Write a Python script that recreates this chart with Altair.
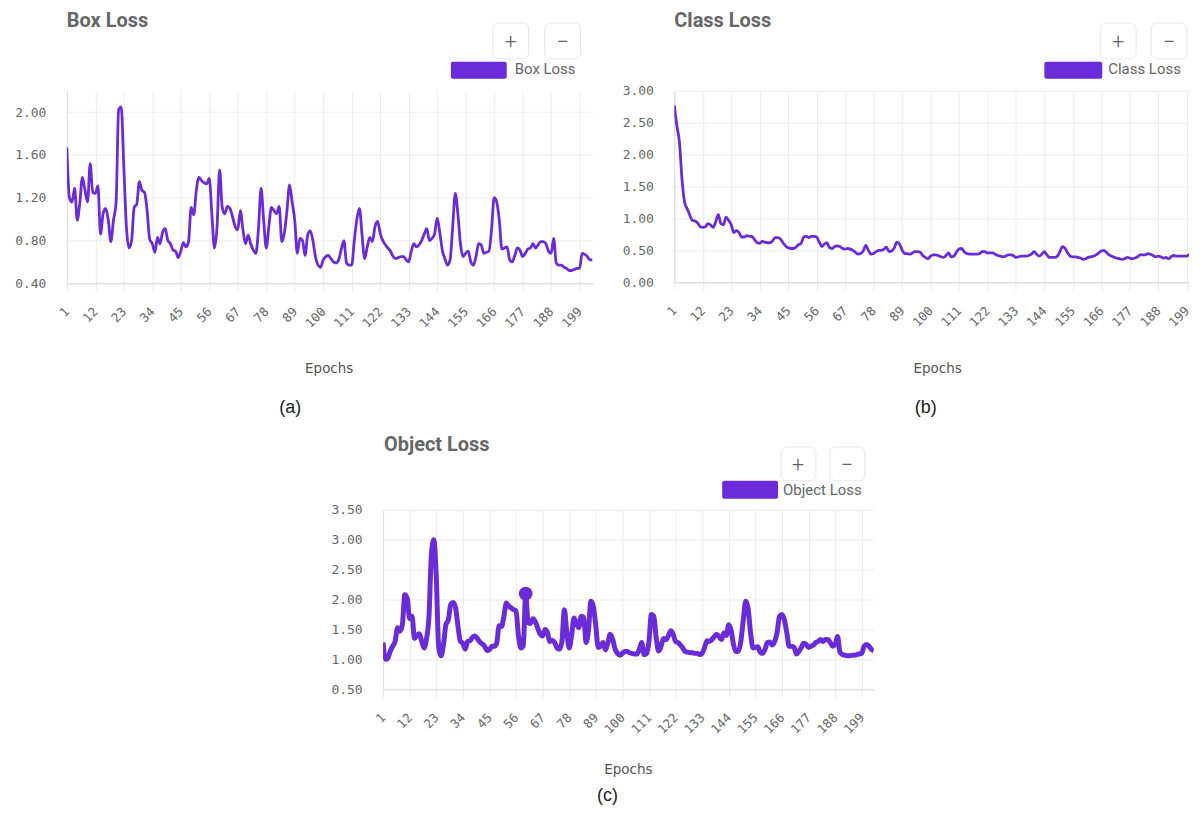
import altair as alt
import pandas as pd

# ---------------- data ----------------
epochs = list(range(1, 205))

box_loss = [
    1.67, 1.20, 1.16, 1.29, 0.99, 1.15, 1.39, 1.27, 1.16, 1.52,
    1.25, 1.24, 1.31, 0.86, 1.05, 1.10, 0.99, 0.79, 0.99, 1.15,
    2.02, 2.05, 1.49, 0.93, 0.73, 0.80, 1.11, 1.14, 1.35, 1.27,
    1.25, 1.08, 0.81, 0.77, 0.69, 0.83, 0.77, 0.88, 0.91, 0.80,
    0.77, 0.71, 0.70, 0.64, 0.70, 0.78, 0.74, 0.79, 1.11, 1.04,
    1.27, 1.39, 1.36, 1.34, 1.33, 1.38, 1.05, 0.73, 0.93, 1.46,
    1.11, 1.05, 1.12, 1.10, 1.02, 0.93, 0.90, 1.08, 0.90, 0.77,
    0.85, 0.77, 0.71, 0.68, 0.91, 1.29, 0.99, 0.73, 0.93, 1.11,
    1.08, 1.05, 1.12, 0.79, 0.87, 1.08, 1.32, 1.16, 0.99, 0.68,
    0.82, 0.80, 0.66, 0.85, 0.89, 0.80, 0.65, 0.57, 0.55, 0.62,
    0.65, 0.66, 0.63, 0.60, 0.59, 0.62, 0.72, 0.80, 0.59, 0.57,
    0.57, 0.80, 1.00, 1.10, 0.85, 0.63, 0.74, 0.83, 0.79, 0.93,
    0.98, 0.87, 0.80, 0.76, 0.73, 0.70, 0.65, 0.63, 0.64, 0.65,
    0.65, 0.62, 0.60, 0.70, 0.77, 0.74, 0.76, 0.80, 0.86, 0.91,
    0.80, 0.82, 0.86, 1.01, 0.88, 0.71, 0.63, 0.57, 0.62, 0.93,
    1.24, 1.05, 0.77, 0.65, 0.68, 0.70, 0.60, 0.57, 0.65, 0.77,
    0.76, 0.68, 0.69, 0.70, 0.90, 1.20, 1.16, 0.99, 0.72, 0.73,
    0.74, 0.62, 0.60, 0.66, 0.73, 0.71, 0.65, 0.68, 0.72, 0.73,
    0.77, 0.73, 0.76, 0.79, 0.79, 0.77, 0.70, 0.68, 0.82, 0.59,
    0.57, 0.57, 0.55, 0.54, 0.52, 0.52, 0.53, 0.54, 0.54, 0.68,
    0.67, 0.65, 0.62, 0.62,
]

class_loss = [
    2.77, 2.45, 2.19, 1.60, 1.25, 1.15, 1.05, 0.97, 0.96, 0.93,
    0.87, 0.86, 0.87, 0.92, 0.90, 0.86, 0.95, 1.06, 0.92, 0.90,
    1.02, 0.97, 0.90, 0.78, 0.81, 0.78, 0.71, 0.71, 0.73, 0.72,
    0.72, 0.67, 0.62, 0.61, 0.64, 0.63, 0.62, 0.62, 0.65, 0.70,
    0.70, 0.68, 0.62, 0.57, 0.54, 0.53, 0.53, 0.55, 0.59, 0.61,
    0.71, 0.72, 0.70, 0.72, 0.72, 0.71, 0.63, 0.56, 0.60, 0.62,
    0.54, 0.53, 0.56, 0.57, 0.56, 0.53, 0.52, 0.53, 0.52, 0.50,
    0.47, 0.44, 0.45, 0.49, 0.58, 0.50, 0.44, 0.45, 0.48, 0.50,
    0.50, 0.52, 0.55, 0.48, 0.49, 0.54, 0.63, 0.60, 0.51, 0.45,
    0.45, 0.44, 0.46, 0.48, 0.48, 0.47, 0.42, 0.39, 0.37, 0.41,
    0.43, 0.43, 0.42, 0.40, 0.39, 0.42, 0.46, 0.40, 0.41, 0.47,
    0.52, 0.53, 0.48, 0.45, 0.44, 0.44, 0.44, 0.44, 0.45, 0.48,
    0.48, 0.46, 0.46, 0.46, 0.44, 0.42, 0.41, 0.40, 0.41, 0.43,
    0.43, 0.42, 0.39, 0.40, 0.41, 0.41, 0.41, 0.42, 0.44, 0.48,
    0.44, 0.41, 0.44, 0.48, 0.43, 0.39, 0.39, 0.39, 0.41, 0.48,
    0.56, 0.53, 0.46, 0.41, 0.40, 0.40, 0.39, 0.38, 0.36, 0.37,
    0.39, 0.40, 0.41, 0.43, 0.46, 0.49, 0.50, 0.47, 0.43, 0.41,
    0.39, 0.38, 0.37, 0.36, 0.37, 0.39, 0.38, 0.37, 0.38, 0.40,
    0.43, 0.43, 0.43, 0.45, 0.44, 0.42, 0.40, 0.41, 0.40, 0.38,
    0.39, 0.37, 0.40, 0.42, 0.41, 0.41, 0.41, 0.41, 0.41, 0.43,
    0.44, 0.46, 0.46, 0.47,
]

object_loss = [
    1.28, 1.00, 1.02, 1.14, 1.22, 1.30, 1.53, 1.47, 1.58, 2.08,
    2.02, 1.68, 1.72, 1.35, 1.40, 1.43, 1.30, 1.19, 1.35, 1.72,
    2.75, 3.00, 2.40, 1.22, 1.06, 1.25, 1.58, 1.66, 1.92, 1.95,
    1.86, 1.55, 1.30, 1.27, 1.17, 1.30, 1.31, 1.37, 1.39, 1.35,
    1.29, 1.26, 1.22, 1.15, 1.16, 1.22, 1.22, 1.27, 1.56, 1.55,
    1.72, 1.94, 1.89, 1.86, 1.83, 1.81, 1.40, 1.19, 1.22, 2.10,
    1.61, 1.60, 1.68, 1.63, 1.52, 1.42, 1.39, 1.50, 1.45, 1.30,
    1.32, 1.28, 1.19, 1.17, 1.30, 1.83, 1.45, 1.19, 1.40, 1.69,
    1.60, 1.53, 1.72, 1.70, 1.28, 1.50, 1.97, 1.88, 1.56, 1.20,
    1.22, 1.28, 1.16, 1.28, 1.42, 1.33, 1.17, 1.10, 1.07, 1.10,
    1.13, 1.13, 1.11, 1.10, 1.09, 1.09, 1.17, 1.28, 1.08, 1.10,
    1.30, 1.75, 1.72, 1.35, 1.14, 1.22, 1.35, 1.33, 1.39, 1.48,
    1.42, 1.30, 1.28, 1.24, 1.19, 1.13, 1.12, 1.11, 1.11, 1.10,
    1.10, 1.08, 1.10, 1.20, 1.31, 1.30, 1.33, 1.38, 1.42, 1.38,
    1.33, 1.44, 1.40, 1.58, 1.48, 1.24, 1.13, 1.14, 1.30, 1.65,
    1.97, 1.85, 1.45, 1.19, 1.20, 1.21, 1.12, 1.10, 1.17, 1.28,
    1.29, 1.24, 1.30, 1.45, 1.72, 1.75, 1.66, 1.45, 1.22, 1.22,
    1.20, 1.09, 1.13, 1.20, 1.27, 1.25, 1.20, 1.22, 1.24, 1.28,
    1.30, 1.33, 1.30, 1.33, 1.33, 1.28, 1.22, 1.25, 1.38, 1.12,
    1.08, 1.07, 1.06, 1.06, 1.07, 1.07, 1.08, 1.09, 1.10, 1.22,
    1.25, 1.22, 1.17, 1.14,
]

highlight_epoch = [60]
highlight_value = [2.10]

x_ticks = list(range(1, 200, 11))
box_ticks = [0.4, 0.8, 1.2, 1.6, 2.0]
class_ticks = [0.0, 0.5, 1.0, 1.5, 2.0, 2.5, 3.0]
object_ticks = [0.5, 1.0, 1.5, 2.0, 2.5, 3.0, 3.5]

PURPLE = "#6a2bd9"
GREY = "#666666"
MONO = "DejaVu Sans Mono"


def one():
    return alt.Data(values=[{"k": 1}])


def txt(s, x, y, size, color, font, weight="normal", align="left"):
    return alt.Chart(one()).mark_text(
        text=s, align=align, baseline="middle", fontSize=size,
        font=font, fontWeight=weight, color=color,
    ).encode(x=alt.value(x), y=alt.value(y))


def box(x1, x2, y1, y2, fill, stroke=None, radius=0):
    kw = dict(fill=fill, cornerRadius=radius)
    if stroke:
        kw.update(stroke=stroke, strokeWidth=1)
    return alt.Chart(one()).mark_rect(**kw).encode(
        x=alt.value(x1), x2=alt.value(x2), y=alt.value(y1), y2=alt.value(y2)
    )


def anchor(x1, x2, y1, y2):
    return alt.Chart(one()).mark_rule(opacity=0, strokeWidth=0).encode(
        x=alt.value(x1), x2=alt.value(x2), y=alt.value(y1), y2=alt.value(y2)
    )


def panel(values, w, h, xmax, ydom, yticks, sw, deco, anchor_box,
          point=None):
    xenc = alt.X("epoch:Q",
                 scale=alt.Scale(domain=[1, xmax], nice=False, zero=False),
                 axis=alt.Axis(values=x_ticks, tickCount=40, title=None,
                               labelAngle=-45,
                               labelAlign="right", labelBaseline="middle",
                               labelFont=MONO, labelFontSize=12.5,
                               labelColor=GREY, labelOverlap=False,
                               labelFlush=False, labelPadding=18,
                               tickSize=8, tickColor="#e8e8e8",
                               gridColor="#ececec", domainColor="#d6d6d6"))
    yenc = alt.Y("loss:Q",
                 scale=alt.Scale(domain=ydom, nice=False, zero=False),
                 axis=alt.Axis(values=yticks, tickCount=20, format=".2f",
                               title=None, labelOverlap=False,
                               labelFont=MONO, labelFontSize=13,
                               labelColor=GREY, tickSize=0, labelPadding=21,
                               gridColor="#ececec", domainColor="#dedede"))
    df = pd.DataFrame({"epoch": epochs, "loss": values})
    line = alt.Chart(df).mark_line(
        color=PURPLE, strokeWidth=sw, interpolate="monotone", clip=True
    ).encode(x=xenc, y=yenc)
    layers = [line]
    if point is not None:
        pdf = pd.DataFrame({"epoch": point[0], "loss": point[1]})
        layers.append(alt.Chart(pdf).mark_point(
            filled=True, size=190, color=PURPLE, opacity=1
        ).encode(x=xenc, y=yenc))
    layers += deco
    layers.append(anchor(*anchor_box))
    return alt.layer(*layers).properties(width=w, height=h)


BTN = dict(font="Roboto", weight=300, align="center")

# ---------- panel (a): Box Loss ----------
deco_a = [
    txt("Box Loss", 0, -70, 20, GREY, "Roboto", "bold"),
    box(427, 463, -68, -32, "white", "#e6e6e6", 6),
    box(479, 515, -68, -32, "white", "#e6e6e6", 6),
    txt("+", 445, -49, 22, GREY, **BTN),
    txt("\u2212", 497, -49, 22, GREY, **BTN),
    box(385, 441, -29, -12, PURPLE, None, 2),
    txt("Box Loss", 449, -22, 15, GREY, "Roboto"),
    txt("Epochs", 263, 279, 13.5, "#555555", "DejaVu Sans", align="center"),
    txt("(a)", 224, 318, 18, "#222222", "Liberation Sans", align="center"),
]
pa = panel(box_loss, 527, 193, 204, [0.4, 2.2], box_ticks, 2.8,
           deco_a, (-59, 533, -82, 335))

# ---------- panel (b): Class Loss ----------
deco_b = [
    txt("Class Loss", 0, -70, 20, GREY, "Roboto", "bold"),
    box(427, 463, -68, -32, "white", "#e6e6e6", 6),
    box(478, 514, -68, -32, "white", "#e6e6e6", 6),
    txt("+", 445, -49, 22, GREY, **BTN),
    txt("\u2212", 496, -49, 22, GREY, **BTN),
    box(371, 429, -29, -12, PURPLE, None, 2),
    txt("Class Loss", 435, -22, 15, GREY, "Roboto"),
    txt("Epochs", 264, 279, 13.5, "#555555", "DejaVu Sans", align="center"),
    txt("(b)", 252, 318, 18, "#222222", "Liberation Sans", align="center"),
]
pb = panel(class_loss, 516, 192, 199.9, [0.0, 3.0], class_ticks,
           2.8, deco_b, (-76, 516, -82, 335))

# ---------- panel (c): Object Loss ----------
deco_c = [
    txt("Object Loss", 1, -65, 20, GREY, "Roboto", "bold"),
    box(399, 434, -63, -29, "white", "#e6e6e6", 6),
    box(448, 483, -63, -29, "white", "#e6e6e6", 6),
    txt("+", 416, -45, 22, GREY, **BTN),
    txt("\u2212", 465, -45, 22, GREY, **BTN),
    box(340, 396, -29, -11, PURPLE, None, 2),
    txt("Object Loss", 401, -20, 15, GREY, "Roboto"),
    txt("Epochs", 246, 261, 13.5, "#555555", "DejaVu Sans", align="center"),
    txt("(c)", 225, 287, 18, "#222222", "Liberation Sans", align="center"),
]
pc = panel(object_loss, 492, 180, 204, [0.5, 3.5], object_ticks, 5,
           deco_c, (-76, 500, -85, 296),
           point=(highlight_epoch, highlight_value))

# invisible spacer so that panel (c) sits in the middle of the page
spacer = anchor(0, 241, 0, 1).properties(width=241, height=1)

chart = alt.vconcat(
    alt.hconcat(pa, pb, spacing=0),
    alt.hconcat(spacer, pc, spacing=0),
    spacing=0,
).properties(padding=0).configure_view(stroke=None)

chart.save("out.html", embed_options={"renderer": "svg", "actions": False})
